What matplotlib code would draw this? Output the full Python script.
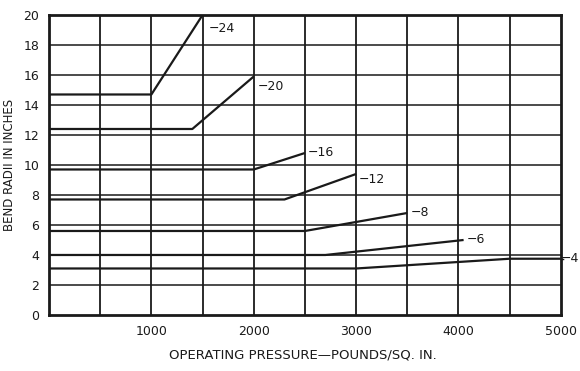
import numpy as np
import matplotlib
matplotlib.use("Agg")
import matplotlib.pyplot as plt

# tube sizes and their bend radius curves (pressure psi -> radius in.)
sizes = ["-24", "-20", "-16", "-12", "-8", "-6", "-4"]
pressures = [
    [0, 1000, 1500],
    [0, 1400, 2000],
    [0, 2000, 2500],
    [0, 2300, 3000],
    [0, 2500, 3500],
    [0, 2700, 4050],
    [0, 3000, 4500, 5000],
]
radii = [
    [14.7, 14.7, 20.0],
    [12.4, 12.4, 15.9],
    [9.7, 9.7, 10.8],
    [7.7, 7.7, 9.4],
    [5.6, 5.6, 6.8],
    [4.0, 4.0, 5.0],
    [3.1, 3.1, 3.75, 3.75],
]
x_ticks = [1000, 2000, 3000, 4000, 5000]
y_ticks = [0, 2, 4, 6, 8, 10, 12, 14, 16, 18, 20]

ink = "#1a1a1a"

fig = plt.figure(figsize=(5.8, 3.71), dpi=100)
ax = fig.add_axes([0.0845, 0.151, 0.8825, 0.8086])

# grid every 500 psi / 2 in.
for gx in np.arange(500, 5000, 500):
    ax.axvline(gx, color=ink, lw=1.3, zorder=1)
for gy in np.arange(2, 20, 2):
    ax.axhline(gy, color=ink, lw=1.1, zorder=1)

for name, xs, ys in zip(sizes, pressures, radii):
    ax.plot(xs, ys, color=ink, lw=1.6, zorder=2, solid_capstyle="butt")

# curve labels
lbl = dict(fontsize=9, color=ink, family="DejaVu Sans", va="center")
ax.text(1560, 19.1, "\u221224", **lbl)
ax.text(2040, 15.2, "\u221220", **lbl)
ax.text(2530, 10.8, "\u221216", **lbl)
ax.text(3030, 9.0, "\u221212", **lbl)
ax.text(3530, 6.8, "\u22128", **lbl)
ax.text(4080, 5.0, "\u22126", **lbl)
# -4 label sits past the right edge of the grid
ax.plot([5000, 5045], [3.75, 3.75], color=ink, lw=1.0, ls=(0, (2, 2)),
        clip_on=False)
fig.text(0.999, 1 - 259 / 371, "\u22124", ha="right", va="center",
         fontsize=9, color=ink)

ax.set_xlim(0, 5000)
ax.set_ylim(0, 20)
ax.set_xticks(x_ticks)
ax.set_yticks(y_ticks)
ax.tick_params(length=0, pad=7, labelsize=9, colors=ink)
for s in ax.spines.values():
    s.set_linewidth(2.0)
    s.set_color(ink)

fig.text(0.016, 0.555, "BEND RADII IN INCHES", rotation=90, ha="center",
         va="center", fontsize=8.5, color=ink)
fig.text(0.523, 0.043, "OPERATING PRESSURE\u2014POUNDS/SQ. IN.", ha="center",
         va="center", fontsize=9.5, color=ink)

fig.savefig("out.png", dpi=100, facecolor="white")
